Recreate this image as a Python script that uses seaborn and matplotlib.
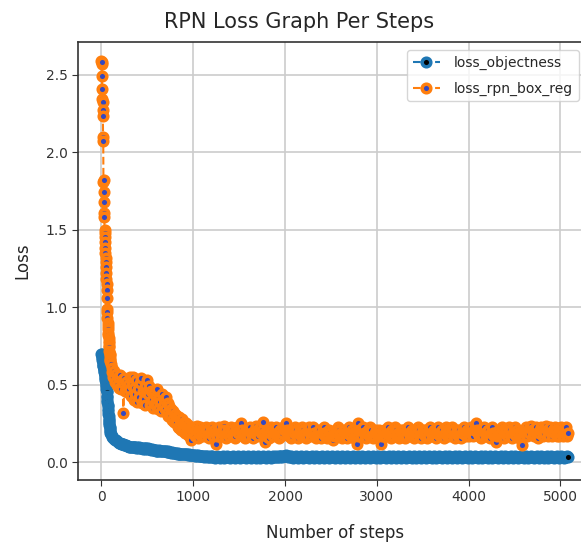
import numpy as np
import pandas as pd
import matplotlib
matplotlib.use("Agg")
import matplotlib.pyplot as plt
import seaborn as sns

# ---------------- data ----------------
steps_early = list(range(0, 100, 2))          # logged every 2 steps at the start
steps_late = list(range(100, 5081, 10))       # logged every 10 steps afterwards

obj_early = [0.70, 0.70, 0.69, 0.68, 0.67, 0.66, 0.66, 0.65, 0.64, 0.63,
             0.62, 0.62, 0.61, 0.60, 0.60, 0.59, 0.58, 0.57, 0.57, 0.56,
             0.55, 0.54, 0.53, 0.52, 0.51, 0.50, 0.49, 0.47, 0.46, 0.45,
             0.43, 0.42, 0.40, 0.39, 0.37, 0.36, 0.34, 0.33, 0.31, 0.30,
             0.28, 0.27, 0.26, 0.25, 0.24, 0.23, 0.22, 0.21, 0.20, 0.19]

box_early = [2.59, 2.57, 2.58, 2.49, 2.41, 2.34, 2.32, 2.27, 2.23, 2.10,
             2.07, 1.81, 1.82, 1.74, 1.68, 1.61, 1.58, 1.50, 1.48, 1.45,
             1.42, 1.38, 1.35, 1.32, 1.29, 1.26, 1.22, 1.18, 1.15, 1.11,
             1.06, 0.99, 0.97, 0.93, 0.90, 0.88, 0.86, 0.83, 0.82, 0.80,
             0.78, 0.77, 0.75, 0.74, 0.72, 0.70, 0.69, 0.67, 0.66, 0.65]

obj_late = [
    0.18, 0.17, 0.16, 0.155, 0.15, 0.145, 0.14, 0.135, 0.13, 0.125,
    0.125, 0.12, 0.12, 0.115, 0.115, 0.11, 0.11, 0.11, 0.105, 0.105,
    0.10, 0.10, 0.10, 0.10, 0.095, 0.10, 0.095, 0.095, 0.09, 0.095,
    0.09, 0.095, 0.09, 0.09, 0.09, 0.085, 0.09, 0.09, 0.085, 0.09,
    0.085, 0.09, 0.085, 0.085, 0.08, 0.085, 0.08, 0.08, 0.08, 0.075,
    0.08, 0.075, 0.075, 0.08, 0.075, 0.07, 0.075, 0.07, 0.07, 0.07,
    0.07, 0.065, 0.07, 0.065, 0.065, 0.065, 0.06, 0.065, 0.06, 0.06,
    0.06, 0.06, 0.055, 0.06, 0.055, 0.055, 0.055, 0.05, 0.055, 0.05,
    0.05, 0.05, 0.05, 0.05, 0.045, 0.05, 0.045, 0.045, 0.045, 0.045,
    0.045, 0.045, 0.04, 0.045, 0.04, 0.045, 0.04, 0.04, 0.04, 0.04,
    0.04, 0.04, 0.035, 0.04, 0.04, 0.035, 0.04, 0.035, 0.035, 0.04,
    0.035, 0.04, 0.035, 0.035, 0.03, 0.035, 0.04, 0.035, 0.035, 0.03,
    0.035, 0.035, 0.04, 0.035, 0.03, 0.035, 0.035, 0.04, 0.035, 0.035,
    0.03, 0.035, 0.035, 0.04, 0.035, 0.03, 0.035, 0.035, 0.035, 0.04,
    0.035, 0.03, 0.035, 0.035, 0.04, 0.035, 0.035, 0.03, 0.035, 0.035,
    0.04, 0.035, 0.035, 0.03, 0.035, 0.04, 0.035, 0.035, 0.03, 0.035,
    0.035, 0.04, 0.035, 0.03, 0.035, 0.035, 0.04, 0.035, 0.035, 0.03,
    0.035, 0.035, 0.04, 0.035, 0.035, 0.03, 0.035, 0.04, 0.035, 0.035,
    0.04, 0.035, 0.035, 0.04, 0.04, 0.035, 0.04, 0.035, 0.04, 0.04,
    0.04, 0.045, 0.04, 0.035, 0.04, 0.035, 0.035, 0.04, 0.035, 0.03,
    0.035, 0.035, 0.04, 0.035, 0.03, 0.035, 0.035, 0.04, 0.035, 0.035,
    0.03, 0.035, 0.035, 0.04, 0.035, 0.035, 0.03, 0.035, 0.035, 0.04,
    0.035, 0.035, 0.03, 0.035, 0.04, 0.035, 0.035, 0.03, 0.035, 0.035,
    0.04, 0.035, 0.035, 0.03, 0.035, 0.035, 0.04, 0.035, 0.03, 0.035,
    0.035, 0.04, 0.035, 0.035, 0.03, 0.035, 0.035, 0.04, 0.035, 0.035,
    0.03, 0.035, 0.04, 0.035, 0.035, 0.03, 0.035, 0.035, 0.04, 0.035,
    0.035, 0.03, 0.035, 0.035, 0.04, 0.035, 0.03, 0.035, 0.035, 0.04,
    0.035, 0.035, 0.03, 0.035, 0.04, 0.035, 0.035, 0.03, 0.035, 0.035,
    0.04, 0.035, 0.035, 0.03, 0.035, 0.035, 0.04, 0.035, 0.035, 0.03,
    0.035, 0.04, 0.035, 0.035, 0.03, 0.035, 0.035, 0.04, 0.035, 0.035,
    0.03, 0.035, 0.035, 0.04, 0.035, 0.03, 0.035, 0.035, 0.04, 0.035,
    0.035, 0.03, 0.035, 0.04, 0.035, 0.035, 0.03, 0.035, 0.035, 0.04,
    0.035, 0.035, 0.03, 0.035, 0.035, 0.04, 0.035, 0.035, 0.03, 0.035,
    0.04, 0.035, 0.035, 0.03, 0.035, 0.035, 0.04, 0.035, 0.03, 0.035,
    0.035, 0.04, 0.035, 0.035, 0.03, 0.035, 0.035, 0.04, 0.035, 0.035,
    0.03, 0.035, 0.04, 0.035, 0.035, 0.03, 0.035, 0.035, 0.04, 0.035,
    0.035, 0.03, 0.035, 0.035, 0.04, 0.035, 0.035, 0.03, 0.035, 0.04,
    0.035, 0.035, 0.03, 0.035, 0.035, 0.04, 0.035, 0.03, 0.035, 0.035,
    0.04, 0.035, 0.035, 0.03, 0.035, 0.035, 0.04, 0.035, 0.035, 0.03,
    0.035, 0.04, 0.035, 0.035, 0.03, 0.035, 0.035, 0.04, 0.035, 0.035,
    0.03, 0.035, 0.035, 0.04, 0.035, 0.03, 0.035, 0.035, 0.04, 0.035,
    0.035, 0.03, 0.035, 0.04, 0.035, 0.035, 0.03, 0.035, 0.035, 0.04,
    0.035, 0.035, 0.03, 0.035, 0.035, 0.04, 0.035, 0.035, 0.03, 0.035,
    0.04, 0.035, 0.035, 0.03, 0.035, 0.035, 0.04, 0.035, 0.03, 0.035,
    0.035, 0.04, 0.035, 0.035, 0.03, 0.035, 0.035, 0.04, 0.035, 0.035,
    0.03, 0.035, 0.04, 0.035, 0.035, 0.03, 0.035, 0.035, 0.04, 0.035,
    0.035, 0.03, 0.035, 0.035, 0.04, 0.035, 0.035, 0.03, 0.035, 0.04,
    0.035, 0.035, 0.03, 0.035, 0.035, 0.04, 0.035, 0.03, 0.035, 0.035,
    0.04, 0.035, 0.035, 0.03, 0.035, 0.035, 0.04, 0.035, 0.035, 0.03,
    0.035, 0.04, 0.035, 0.035, 0.03, 0.035, 0.035, 0.04, 0.035]

box_late = [
    0.63, 0.58, 0.61, 0.55, 0.59, 0.52, 0.57, 0.50, 0.55, 0.48,
    0.56, 0.47, 0.53, 0.51, 0.315, 0.54, 0.46, 0.52, 0.45, 0.50,
    0.47, 0.55, 0.43, 0.50, 0.55, 0.40, 0.48, 0.44, 0.53, 0.39,
    0.47, 0.42, 0.51, 0.54, 0.38, 0.46, 0.41, 0.49, 0.37, 0.45,
    0.53, 0.44, 0.49, 0.37, 0.46, 0.40, 0.35, 0.45, 0.38, 0.43,
    0.36, 0.47, 0.34, 0.42, 0.39, 0.33, 0.44, 0.36, 0.41, 0.34,
    0.42, 0.32, 0.38, 0.30, 0.36, 0.29, 0.34, 0.27, 0.33, 0.26,
    0.31, 0.25, 0.30, 0.23, 0.29, 0.22, 0.27, 0.21, 0.28, 0.20,
    0.26, 0.19, 0.25, 0.18, 0.24, 0.17, 0.23, 0.19, 0.14, 0.22,
    0.19, 0.225, 0.17, 0.21, 0.235, 0.155, 0.19, 0.225, 0.17, 0.21,
    0.19, 0.21, 0.17, 0.19, 0.225, 0.21, 0.17, 0.155, 0.19, 0.21,
    0.225, 0.19, 0.17, 0.21, 0.19, 0.12, 0.17, 0.21, 0.225, 0.19,
    0.17, 0.19, 0.225, 0.235, 0.21, 0.17, 0.155, 0.19, 0.21, 0.17,
    0.19, 0.225, 0.21, 0.17, 0.19, 0.155, 0.17, 0.21, 0.225, 0.19,
    0.21, 0.225, 0.25, 0.21, 0.17, 0.19, 0.155, 0.17, 0.21, 0.19,
    0.17, 0.21, 0.225, 0.19, 0.17, 0.155, 0.19, 0.21, 0.235, 0.21,
    0.19, 0.17, 0.21, 0.225, 0.19, 0.21, 0.26, 0.19, 0.13, 0.17,
    0.19, 0.21, 0.17, 0.155, 0.19, 0.225, 0.21, 0.17, 0.19, 0.21,
    0.225, 0.19, 0.17, 0.155, 0.19, 0.21, 0.17, 0.19, 0.225, 0.21,
    0.225, 0.25, 0.21, 0.19, 0.17, 0.21, 0.19, 0.155, 0.17, 0.21,
    0.19, 0.225, 0.21, 0.17, 0.155, 0.19, 0.21, 0.17, 0.19, 0.225,
    0.21, 0.17, 0.19, 0.155, 0.17, 0.21, 0.225, 0.19, 0.17, 0.19,
    0.21, 0.225, 0.19, 0.17, 0.155, 0.17, 0.19, 0.21, 0.17, 0.155,
    0.19, 0.21, 0.225, 0.19, 0.17, 0.19, 0.155, 0.17, 0.21, 0.19,
    0.17, 0.155, 0.14, 0.17, 0.19, 0.21, 0.17, 0.19, 0.225, 0.21,
    0.17, 0.19, 0.155, 0.17, 0.21, 0.19, 0.17, 0.155, 0.19, 0.21,
    0.225, 0.19, 0.17, 0.21, 0.19, 0.155, 0.17, 0.19, 0.12, 0.17,
    0.25, 0.21, 0.19, 0.17, 0.21, 0.225, 0.19, 0.17, 0.155, 0.19,
    0.21, 0.17, 0.19, 0.225, 0.21, 0.17, 0.155, 0.17, 0.19, 0.21,
    0.19, 0.17, 0.21, 0.19, 0.155, 0.12, 0.17, 0.19, 0.21, 0.17,
    0.19, 0.21, 0.225, 0.19, 0.17, 0.155, 0.19, 0.21, 0.17, 0.19,
    0.225, 0.21, 0.17, 0.19, 0.155, 0.17, 0.21, 0.19, 0.17, 0.21,
    0.19, 0.155, 0.17, 0.21, 0.225, 0.19, 0.17, 0.19, 0.21, 0.17,
    0.155, 0.19, 0.21, 0.17, 0.19, 0.225, 0.21, 0.17, 0.155, 0.19,
    0.21, 0.19, 0.17, 0.21, 0.19, 0.155, 0.17, 0.21, 0.225, 0.19,
    0.17, 0.19, 0.21, 0.17, 0.155, 0.19, 0.21, 0.225, 0.19, 0.17,
    0.19, 0.21, 0.17, 0.155, 0.19, 0.225, 0.21, 0.17, 0.19, 0.21,
    0.17, 0.19, 0.225, 0.21, 0.17, 0.155, 0.19, 0.21, 0.17, 0.19,
    0.21, 0.17, 0.155, 0.19, 0.21, 0.225, 0.19, 0.17, 0.21, 0.19,
    0.17, 0.19, 0.21, 0.225, 0.19, 0.17, 0.21, 0.225, 0.25, 0.21,
    0.19, 0.17, 0.21, 0.19, 0.155, 0.17, 0.21, 0.225, 0.19, 0.17,
    0.19, 0.21, 0.17, 0.155, 0.19, 0.21, 0.225, 0.19, 0.17, 0.19,
    0.13, 0.17, 0.19, 0.21, 0.17, 0.19, 0.225, 0.21, 0.17, 0.155,
    0.19, 0.21, 0.17, 0.19, 0.225, 0.21, 0.17, 0.155, 0.19, 0.21,
    0.225, 0.19, 0.17, 0.21, 0.19, 0.155, 0.17, 0.19, 0.11, 0.17,
    0.19, 0.21, 0.225, 0.19, 0.17, 0.21, 0.19, 0.225, 0.235, 0.21,
    0.19, 0.17, 0.21, 0.225, 0.19, 0.17, 0.155, 0.19, 0.21, 0.225,
    0.21, 0.17, 0.19, 0.225, 0.235, 0.21, 0.19, 0.17, 0.21, 0.225,
    0.19, 0.17, 0.21, 0.19, 0.225, 0.21, 0.17, 0.19, 0.21, 0.17,
    0.19, 0.225, 0.21, 0.17, 0.19, 0.21, 0.225, 0.17, 0.19]

series_names = ["loss_objectness", "loss_rpn_box_reg"]
title = "RPN Loss Graph Per Steps"
x_label = "Number of steps"
y_label = "Loss"

steps = steps_early + steps_late
obj = obj_early + obj_late
box = box_early + box_late
assert len(steps) == len(obj) == len(box), (len(steps), len(obj), len(box))

df = pd.DataFrame({"step": steps, series_names[0]: obj, series_names[1]: box})

# ---------------- plot ----------------
sns.set_style("ticks")
plt.rcParams["font.family"] = ["DejaVu Sans"]

fig = plt.figure(figsize=(5.81, 5.47), dpi=100)
ax = fig.add_axes([78 / 581, 1 - 480 / 547, (593 - 78) / 581, (480 - 42) / 547])

sns.lineplot(data=df, x="step", y=series_names[0], ax=ax, color="#1f77b4",
             linestyle="--", linewidth=1.5, marker="o", markersize=6.2,
             markerfacecolor="black", markeredgecolor="#1f77b4",
             markeredgewidth=2.5, label=series_names[0])
sns.lineplot(data=df, x="step", y=series_names[1], ax=ax, color="#ff7f0e",
             linestyle="--", linewidth=1.5, marker="o", markersize=6.2,
             markerfacecolor="#3448c0", markeredgecolor="#ff7f0e",
             markeredgewidth=2.5, label=series_names[1])

ax.set_xlim(-255, 5355)
ax.set_ylim(-0.115, 2.71)
ax.set_xticks([0, 1000, 2000, 3000, 4000, 5000])
ax.set_yticks([0.0, 0.5, 1.0, 1.5, 2.0, 2.5])
ax.yaxis.set_major_formatter(matplotlib.ticker.FormatStrFormatter("%.1f"))
ax.grid(True, color="#cccccc", linewidth=1.2)
ax.set_axisbelow(True)
for s in ax.spines.values():
    s.set_color("#333333")
    s.set_linewidth(1.2)
ax.tick_params(axis="both", labelsize=10, colors="#333333", length=4)

ax.set_title(title, fontsize=15, pad=10, x=(299 - 78) / 515)
ax.set_xlabel(x_label, fontsize=12, labelpad=14)
ax.set_ylabel(y_label, fontsize=12, labelpad=10)
ax.legend(loc="upper left", bbox_to_anchor=((407 - 78) / 515, (480 - 50) / 438),
          borderaxespad=0, fontsize=10, frameon=True, labelspacing=0.85,
          handletextpad=1.0)

fig.savefig("out.png", dpi=100)
